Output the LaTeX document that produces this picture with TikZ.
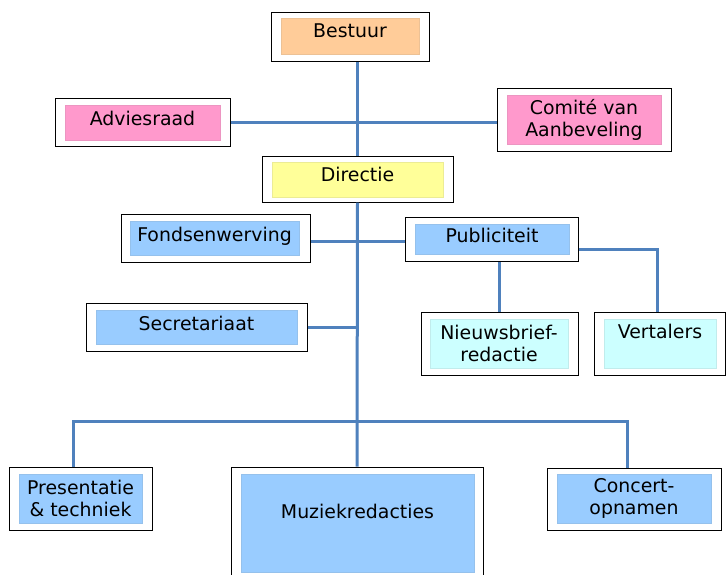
\documentclass[tikz,border=0pt]{standalone}
\usepackage{fontspec}
\setmainfont{DejaVu Sans}
\usepackage{tikz}

\definecolor{kader}{HTML}{4F81BD}
\definecolor{oranje}{HTML}{FFCC99}
\definecolor{roze}{HTML}{FF99CC}
\definecolor{geel}{HTML}{FFFF99}
\definecolor{blauw}{HTML}{99CCFF}
\definecolor{cyaan}{HTML}{CCFFFF}

\begin{document}
\begin{tikzpicture}[x=1pt, y=-1pt,
    font=\fontsize{18.9}{22}\selectfont,
    frame/.style={draw=black, line width=1pt, fill=white, inner sep=0pt},
    vak/.style={fill=#1, draw=#1!85!gray, line width=0.4pt, inner sep=0pt, align=center},
    lijn/.style={draw=kader, line width=3pt}]
    \useasboundingbox (0,0) rectangle (726,574);
    % frames
    \node[frame, minimum width=158, minimum height=49] (bestuur) at (350,36.5) {};
    \node[frame, minimum width=175, minimum height=48] (advies) at (142.5,122) {};
    \node[frame, minimum width=174, minimum height=63] (comite) at (584,119.5) {};
    \node[frame, minimum width=191, minimum height=46] (directie) at (357.5,179) {};
    \node[frame, minimum width=189, minimum height=48] (fonds) at (215.5,238) {};
    \node[frame, minimum width=173, minimum height=44] (publ) at (491.5,239) {};
    \node[frame, minimum width=157, minimum height=63] (nieuws) at (499.5,343.5) {};
    \node[frame, minimum width=131, minimum height=63] (vert) at (659.5,343.5) {};
    \node[frame, minimum width=221, minimum height=48] (secr) at (196.5,327) {};
    \node[frame, minimum width=143, minimum height=63] (pres) at (80.5,498.5) {};
    \node[frame, minimum width=252, minimum height=122] (muziek) at (357,528) {};
    \node[frame, minimum width=174, minimum height=62] (concert) at (634,499) {};
    % coloured fields with text
    \node[vak=oranje, minimum width=138, minimum height=36, text depth=11pt] (bestuurtxt) at (350,36) {Bestuur};
    \node[vak=roze, minimum width=155, minimum height=35, text depth=8pt] (adviestxt) at (142.5,122.5) {Adviesraad};
    \node[vak=roze, minimum width=154, minimum height=49] (comitetxt) at (584,119.5) {Comité van\\Aanbeveling};
    \node[vak=geel, minimum width=171, minimum height=35, text depth=11pt] (directietxt) at (357.5,179.5) {Directie};
    \node[vak=blauw, minimum width=169, minimum height=34, text depth=8pt] (fondstxt) at (214.5,238) {Fondsenwerving};
    \node[vak=blauw, minimum width=154, minimum height=30, text depth=8pt] (publtxt) at (492,239) {Publiciteit};
    \node[vak=cyaan, minimum width=138, minimum height=49] (nieuwstxt) at (499,343.5) {Nieuwsbrief-\\redactie};
    \node[vak=cyaan, minimum width=112, minimum height=49, text depth=25pt] (verttxt) at (660,343.5) {Vertalers};
    \node[vak=blauw, minimum width=201, minimum height=34, text depth=8pt] (secrtxt) at (196.5,327) {Secretariaat};
    \node[vak=blauw, minimum width=123, minimum height=49] (prestxt) at (80.5,498.5) {Presentatie\\\&~techniek};
    \node[vak=blauw, minimum width=233, minimum height=98, text depth=24pt] (muziektxt) at (357.5,523) {Muziekredacties};
    \node[vak=blauw, minimum width=154, minimum height=49] (concerttxt) at (634,498.5) {Concert-\\opnamen};
    % connectors
    \coordinate (balk) at (357,421);
    \path[lijn] (bestuur.south -| directie.north) -- (directie.north);
    \path[lijn] (directie.south) -- (muziek.north);
    \path[lijn] (advies.east) -- (advies.east -| comite.west);
    \path[lijn] ([yshift=-3pt]fonds.east) -- ([yshift=-3pt]fonds.east -| publ.west);
    \path[lijn] (secr.east) -- (secr.east -| directie.south);
    \path[lijn] (nieuws.north) -- (nieuws.north |- publ.south);
    \path[lijn] ([yshift=-10pt]publ.east) -| ([xshift=-2.5pt]vert.north);
    \path[lijn] ([xshift=-7.5pt]pres.north) |- (balk) -| ([xshift=-7pt]concert.north);
\end{tikzpicture}
\end{document}
